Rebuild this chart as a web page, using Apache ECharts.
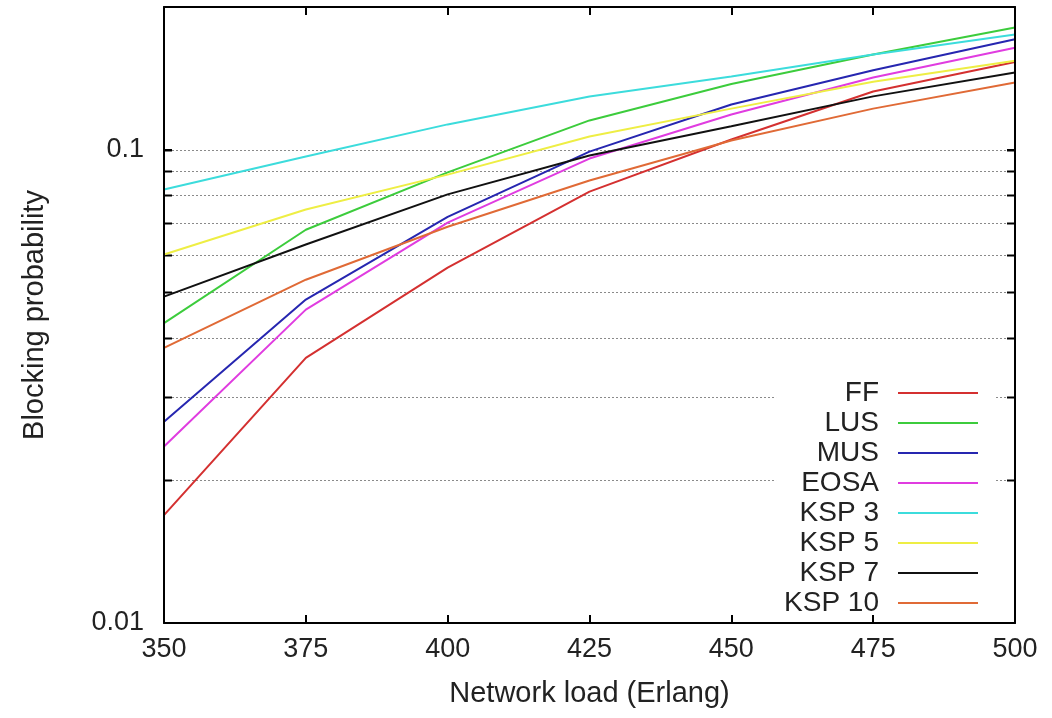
<!DOCTYPE html>
<html>
<head>
<meta charset="utf-8">
<script src="https://cdn.jsdelivr.net/npm/echarts@6/dist/echarts.min.js"></script>
<style>
html,body{margin:0;padding:0;background:#fff;}
#chart{width:1052px;height:718px;}
</style>
</head>
<body>
<div id="chart"></div>
<script>
// ---- data ----
const loads = [350, 375, 400, 425, 450, 475, 500];
const seriesNames = ['FF', 'LUS', 'MUS', 'EOSA', 'KSP 3', 'KSP 5', 'KSP 7', 'KSP 10'];
const FF    = [0.0169, 0.0363, 0.0563, 0.0815, 0.1050, 0.1326, 0.1530];
const LUS   = [0.0430, 0.0677, 0.0895, 0.1152, 0.1375, 0.1588, 0.1810];
const MUS   = [0.0266, 0.0482, 0.0721, 0.0990, 0.1245, 0.1470, 0.1710];
const EOSA  = [0.0236, 0.0459, 0.0701, 0.0957, 0.1186, 0.1420, 0.1640];
const KSP3  = [0.0823, 0.0967, 0.1130, 0.1294, 0.1426, 0.1588, 0.1750];
const KSP5  = [0.0600, 0.0747, 0.0885, 0.1065, 0.1220, 0.1390, 0.1540];
const KSP7  = [0.0489, 0.0630, 0.0804, 0.0971, 0.1120, 0.1295, 0.1455];
const KSP10 = [0.0381, 0.0531, 0.0687, 0.0860, 0.1045, 0.1220, 0.1386];
const gridValues = [0.02, 0.03, 0.04, 0.05, 0.06, 0.07, 0.08, 0.09, 0.1];
const xTicks = [350, 375, 400, 425, 450, 475, 500];

const allValues = [FF, LUS, MUS, EOSA, KSP3, KSP5, KSP7, KSP10];
const colors = ['#d43030', '#3ccc3c', '#2626b0', '#e03ce0', '#3cdcdc', '#eeee44', '#111111', '#e06a36'];
const FONT = "'Liberation Sans', Arial, sans-serif";

const chart = echarts.init(document.getElementById('chart'), null, {renderer: 'canvas'});

const lineSeries = seriesNames.map((name, i) => ({
  name: name,
  type: 'line',
  xAxisIndex: 0,
  yAxisIndex: 0,
  symbol: 'none',
  showSymbol: false,
  z: 3,
  lineStyle: {color: colors[i], width: 2},
  itemStyle: {color: colors[i]},
  data: loads.map((x, j) => [x, allValues[i][j]])
}));

const gridSeries = {
  name: 'grid',
  type: 'custom',
  xAxisIndex: 0,
  yAxisIndex: 0,
  z: 1,
  silent: true,
  encode: {x: 0, y: 1},
  data: gridValues.map(v => [xTicks[0], v]),
  renderItem: function (params, api) {
    const p = api.coord([api.value(0), api.value(1)]);
    const cs = params.coordSys;
    const y = Math.round(p[1]) + 0.5;
    return {
      type: 'group',
      children: [
        {type: 'line', shape: {x1: cs.x, y1: y, x2: cs.x + cs.width, y2: y},
         style: {stroke: '#8a8a8a', lineWidth: 1, lineDash: [2, 2]}},
        {type: 'line', shape: {x1: cs.x, y1: y, x2: cs.x + 8, y2: y},
         style: {stroke: '#000', lineWidth: 2}},
        {type: 'line', shape: {x1: cs.x + cs.width - 8, y1: y, x2: cs.x + cs.width, y2: y},
         style: {stroke: '#000', lineWidth: 2}}
      ]
    };
  }
};

const axisLineStyle = {show: true, lineStyle: {color: '#000', width: 2}};

const option = {
  animation: false,
  backgroundColor: '#fff',
  textStyle: {fontFamily: FONT},
  grid: {left: 164, right: 37, top: 7, bottom: 95, containLabel: false},
  legend: {
    show: true,
    data: seriesNames,
    orient: 'vertical',
    align: 'right',
    right: 57,
    top: 371,
    padding: [8, 17, 2, 8],
    backgroundColor: '#ffffff',
    itemGap: 2,
    itemWidth: 80,
    itemHeight: 2,
    icon: 'rect',
    z: 10,
    textStyle: {fontFamily: FONT, fontSize: 28, color: '#222', lineHeight: 28, padding: [0, 14, 0, 0]}
  },
  xAxis: [
    {
      type: 'value', min: 350, max: 500, interval: 25, position: 'bottom', z: 20,
      name: 'Network load (Erlang)', nameLocation: 'middle', nameGap: 56,
      nameTextStyle: {fontFamily: FONT, fontSize: 29, color: '#222'},
      axisLine: axisLineStyle,
      axisTick: {show: true, inside: true, length: 8, lineStyle: {color: '#000', width: 2}},
      axisLabel: {fontFamily: FONT, fontSize: 27, color: '#222', margin: 13},
      splitLine: {show: false}
    },
    {
      type: 'value', min: 350, max: 500, interval: 25, position: 'top', z: 20,
      axisLine: axisLineStyle,
      axisTick: {show: true, inside: true, length: 8, lineStyle: {color: '#000', width: 2}},
      axisLabel: {show: false},
      splitLine: {show: false}
    }
  ],
  yAxis: [
    {
      type: 'log', logBase: 10, min: 0.01, max: 0.2, position: 'left', z: 20,
      name: 'Blocking probability', nameLocation: 'middle', nameGap: 115, nameRotate: 90,
      nameTextStyle: {fontFamily: FONT, fontSize: 29, color: '#222'},
      axisLine: axisLineStyle,
      axisTick: {show: true, inside: true, length: 8, lineStyle: {color: '#000', width: 2}},
      axisLabel: {fontFamily: FONT, fontSize: 27, color: '#222', margin: 20,
        formatter: v => (Math.abs(v - 0.1) < 1e-9 ? '0.1' : Math.abs(v - 0.01) < 1e-9 ? '0.01' : '')},
      splitLine: {show: false}
    },
    {
      type: 'log', logBase: 10, min: 0.01, max: 0.2, position: 'right', z: 20,
      axisLine: axisLineStyle,
      axisTick: {show: true, inside: true, length: 8, lineStyle: {color: '#000', width: 2}},
      axisLabel: {show: false},
      splitLine: {show: false}
    }
  ],
  series: [gridSeries].concat(lineSeries)
};

chart.setOption(option);
</script>
</body>
</html>
